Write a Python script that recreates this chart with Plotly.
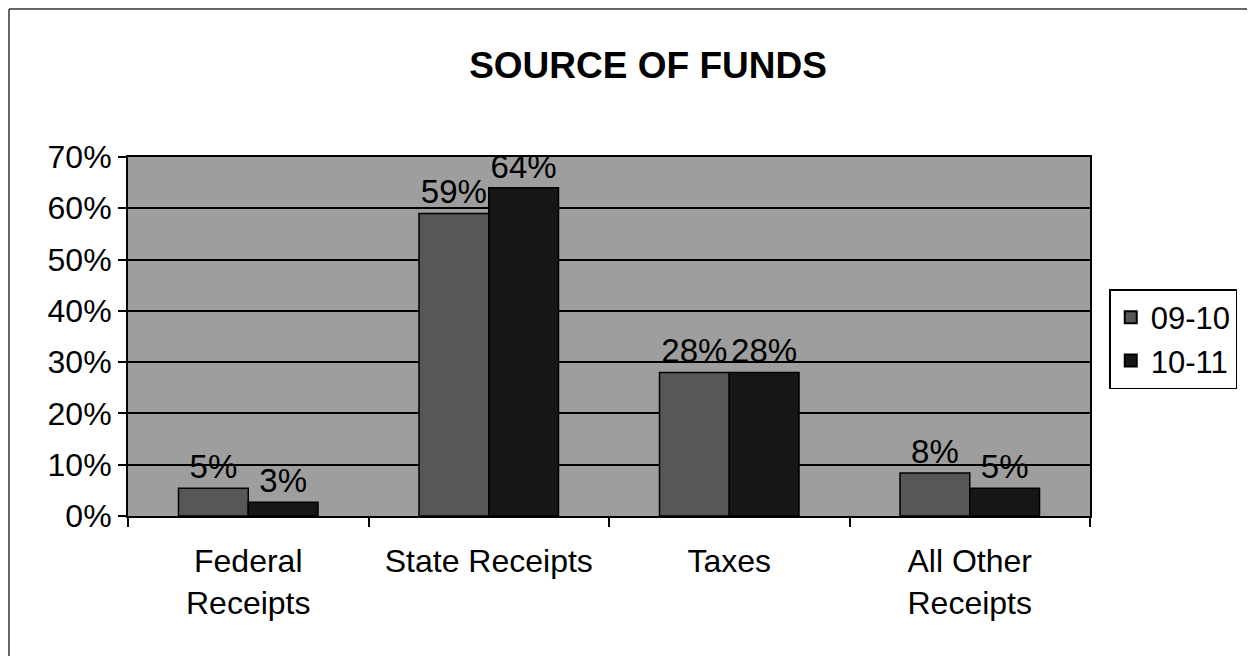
import plotly.graph_objects as go

categories = ["Federal<br>Receipts", "State Receipts", "Taxes", "All Other<br>Receipts"]
series_names = ["09-10", "10-11"]
values_0910 = [0.054, 0.59, 0.28, 0.084]
values_1011 = [0.027, 0.64, 0.28, 0.054]
bar_colors = ["#575757", "#161616"]

FONT = "Liberation Sans, Arial, sans-serif"

# page has an 8px body margin; figure sized to fit the 1255x657 window
W, H = 1247, 649
L, T, R, B = 120, 149, 165, 141
pw, ph = W - L - R, H - T - B

fig = go.Figure()
for name, vals, col in zip(series_names, [values_0910, values_1011], bar_colors):
    fig.add_trace(go.Bar(
        x=categories, y=vals, name=name,
        marker=dict(color=col, line=dict(color="#000000", width=1.5)),
        texttemplate="%{y:.0%}", textposition="outside",
        textfont=dict(family=FONT, size=33, color="#000000"),
        constraintext="none", cliponaxis=False,
    ))

fig.update_layout(
    width=W, height=H,
    margin=dict(l=L, r=R, t=T, b=B),
    paper_bgcolor="#ffffff",
    plot_bgcolor="#9e9e9e",
    barmode="group", bargap=0.42, bargroupgap=0,
    font=dict(family=FONT, size=32, color="#000000"),
    title=dict(text="<b>SOURCE OF FUNDS</b>", x=640 / W, xref="container", xanchor="center",
               y=1 - 57 / H, yanchor="middle",
               font=dict(family=FONT, size=37, color="#000000")),
    legend=dict(x=1.02, y=0.632, xanchor="left", yanchor="top",
                bordercolor="#000000", borderwidth=1.5, bgcolor="#ffffff",
                font=dict(family=FONT, size=31, color="#000000"),
                itemsizing="constant", tracegroupgap=0),
    showlegend=True,
    shapes=[
        dict(type="line", xref="paper", yref="paper",
             x0=(1 - L) / pw, x1=(1 - L) / pw, y0=(T + ph - H + 1) / ph, y1=(T + ph - 1) / ph,
             line=dict(color="#333333", width=1.5)),
        dict(type="line", xref="paper", yref="paper",
             x0=(1 - L) / pw, x1=(W - 1 - L) / pw, y0=(T + ph - 1) / ph, y1=(T + ph - 1) / ph,
             line=dict(color="#333333", width=1.5)),
    ],
)

fig.update_xaxes(
    showline=True, linecolor="#000000", linewidth=2, mirror=True,
    ticks="outside", tickson="boundaries", ticklen=9, tickcolor="#000000", tickwidth=1.5,
    showgrid=False, ticklabelstandoff=16,
    tickfont=dict(family=FONT, size=32, color="#000000"),
)
fig.update_yaxes(
    range=[0, 0.7], dtick=0.1, tickformat=".0%",
    showline=True, linecolor="#000000", linewidth=2, mirror=True,
    ticks="outside", ticklen=8, tickcolor="#000000", tickwidth=1.5,
    showgrid=True, gridcolor="#000000", gridwidth=1.5, zeroline=False,
    tickfont=dict(family=FONT, size=32, color="#000000"),
)

fig.write_html("out.html")
